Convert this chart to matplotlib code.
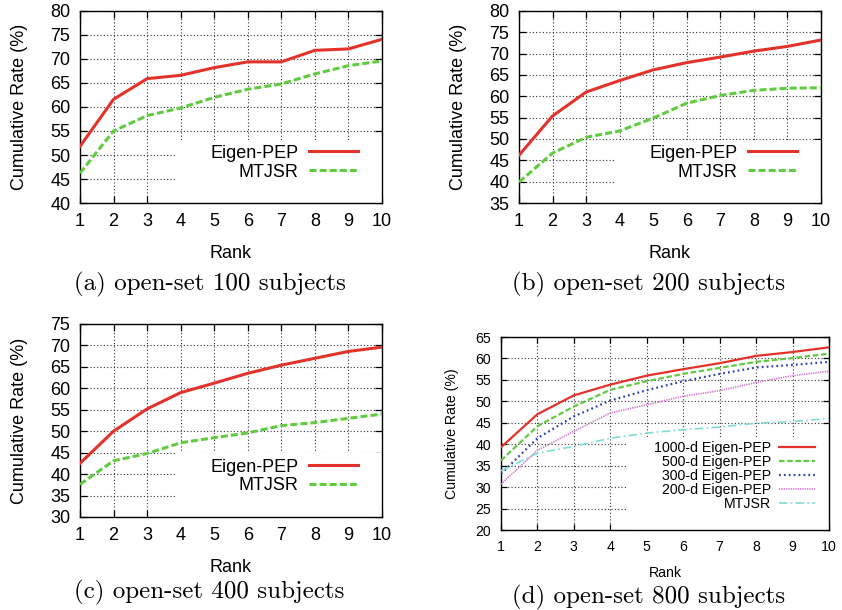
import numpy as np
import matplotlib
matplotlib.use('Agg')
import matplotlib.pyplot as plt
from matplotlib.patches import Rectangle

plt.rcParams['font.family'] = ['Liberation Sans', 'DejaVu Sans']

rank = [1, 2, 3, 4, 5, 6, 7, 8, 9, 10]

# (a) open-set 100 subjects
eigen_100 = [51.8, 61.6, 65.9, 66.6, 68.2, 69.4, 69.4, 71.8, 72.1, 74.1]
mtjsr_100 = [46.2, 55.0, 58.2, 59.8, 62.0, 63.7, 64.8, 66.9, 68.6, 69.6]

# (b) open-set 200 subjects
eigen_200 = [46.2, 55.4, 61.0, 63.7, 66.2, 67.9, 69.2, 70.6, 71.7, 73.2]
mtjsr_200 = [39.9, 46.7, 50.4, 51.9, 54.9, 58.4, 60.2, 61.4, 61.9, 62.0]

# (c) open-set 400 subjects
eigen_400 = [42.5, 50.0, 55.2, 59.0, 61.2, 63.5, 65.4, 67.0, 68.6, 69.6]
mtjsr_400 = [37.6, 43.1, 44.8, 47.3, 48.5, 49.6, 51.3, 52.0, 53.0, 54.0]

# (d) open-set 800 subjects
eigen1000_800 = [39.3, 47.0, 51.4, 53.9, 56.0, 57.5, 58.9, 60.6, 61.5, 62.6]
eigen500_800 = [36.2, 44.2, 48.8, 52.7, 54.7, 56.4, 57.8, 59.2, 60.1, 61.1]
eigen300_800 = [33.1, 41.4, 46.5, 50.2, 52.6, 54.7, 56.4, 57.9, 58.5, 59.2]
eigen200_800 = [30.7, 38.6, 43.0, 47.3, 49.2, 51.2, 52.5, 54.4, 56.0, 57.0]
mtjsr_800 = [33.8, 37.9, 39.5, 41.4, 42.6, 43.4, 44.0, 44.9, 45.3, 46.0]

captions = ['(a) open-set 100 subjects', '(b) open-set 200 subjects',
            '(c) open-set 400 subjects', '(d) open-set 800 subjects']

RED = '#e2322a'
GREEN = '#5fcc40'
BLUE = '#2f3fb0'
MAGENTA = '#d677d6'
CYAN = '#7fdcd8'


def style_axes(ax, ylim, fs, key_box, xpad, ypad):
    ax.set_xlim(1, 10)
    ax.set_ylim(*ylim)
    ax.set_xticks(rank)
    ax.set_yticks(np.arange(ylim[0], ylim[1] + 1, 5))
    ax.tick_params(direction='in', top=True, right=True, length=5,
                   width=0.9, labelsize=fs, pad=7)
    ax.grid(True, color='#333333', linestyle=(0, (1, 2)), linewidth=0.8)
    ax.set_axisbelow(True)
    for s in ax.spines.values():
        s.set_linewidth(1.0)
    ax.set_xlabel('Rank', fontsize=fs, labelpad=xpad)
    ax.set_ylabel('Cumulative Rate (%)', fontsize=fs, labelpad=ypad)
    # opaque key area like gnuplot
    ax.add_patch(Rectangle((key_box[0], 0), 1 - key_box[0], key_box[1],
                           transform=ax.transAxes, facecolor='white',
                           edgecolor='none', zorder=1))


fig = plt.figure(figsize=(8.42, 6.10), dpi=100)

ax_a = fig.add_axes([0.0950, 0.6672, 0.3587, 0.3148])
ax_b = fig.add_axes([0.6164, 0.6672, 0.3587, 0.3148])
ax_c = fig.add_axes([0.0950, 0.1525, 0.3587, 0.3164])
ax_d = fig.add_axes([0.5950, 0.1311, 0.3895, 0.3164])

panels = [(ax_a, eigen_100, mtjsr_100, (40, 80)),
          (ax_b, eigen_200, mtjsr_200, (35, 80)),
          (ax_c, eigen_400, mtjsr_400, (30, 75))]

for ax, eig, mtj, ylim in panels:
    style_axes(ax, ylim, 13, (0.315, 0.33), 11, 16)
    ax.plot(rank, eig, color=RED, lw=2.2, label='Eigen-PEP', zorder=3)
    ax.plot(rank, mtj, color=GREEN, lw=2.2, linestyle=(0, (2.3, 1.0)),
            label='MTJSR', zorder=3)
    ax.legend(loc='lower right', bbox_to_anchor=(0.95, 0.07), frameon=False,
              markerfirst=False, fontsize=13, handlelength=2.7,
              handletextpad=0.6, labelspacing=0.1, borderpad=0)
    for t in ax.get_legend().get_texts():
        t.set_ha('right')

style_axes(ax_d, (20, 65), 10.2, (0.387, 0.48), 9, 12)
ax_d.plot(rank, eigen1000_800, color=RED, lw=1.6, label='1000-d Eigen-PEP', zorder=3)
ax_d.plot(rank, eigen500_800, color=GREEN, lw=1.6, linestyle=(0, (2.5, 1.2)),
          label='500-d Eigen-PEP', zorder=3)
ax_d.plot(rank, eigen300_800, color=BLUE, lw=1.6, linestyle=(0, (0.8, 1.4)),
          label='300-d Eigen-PEP', zorder=3)
ax_d.plot(rank, eigen200_800, color=MAGENTA, lw=1.2, linestyle=(0, (0.8, 0.6)),
          label='200-d Eigen-PEP', zorder=3)
ax_d.plot(rank, mtjsr_800, color=CYAN, lw=1.2, linestyle=(0, (5, 2, 1, 2)),
          label='MTJSR', zorder=3)
ax_d.tick_params(length=4, pad=7)
ax_d.legend(loc='lower right', bbox_to_anchor=(0.98, 0.06), frameon=False,
            markerfirst=False, fontsize=10.2, handlelength=2.55,
            handletextpad=0.55, labelspacing=0.0, borderpad=0)
for t in ax_d.get_legend().get_texts():
    t.set_ha('right')

cap_pos = [(0.249, 0.533), (0.770, 0.533), (0.249, 0.028), (0.770, 0.020)]
for (x, y), txt in zip(cap_pos, captions):
    fig.text(x, y, txt, ha='center', va='center', fontsize=18,
             family=['cmr10', 'DejaVu Serif'])

fig.savefig('out.png', dpi=100)
